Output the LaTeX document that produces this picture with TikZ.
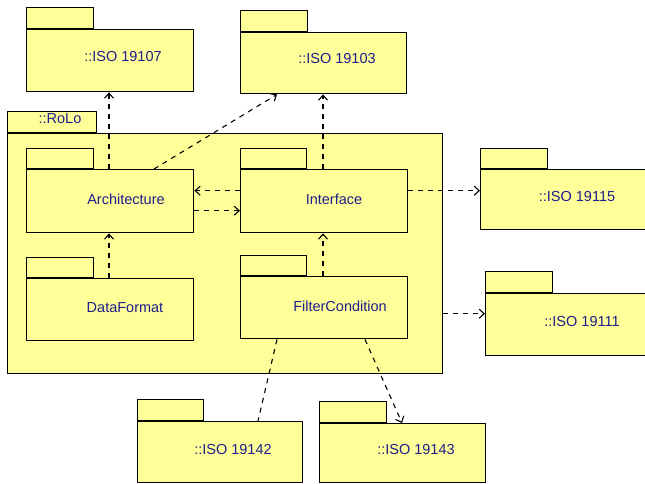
\documentclass[tikz,border=0pt]{standalone}
\usepackage{fontspec}
\setmainfont{Liberation Sans}
\usetikzlibrary{arrows.meta,calc}
\definecolor{pkgfill}{RGB}{255,255,153}
\definecolor{pkgtext}{RGB}{30,30,140}
\tikzset{
  pkgbody/.style={draw=black, fill=pkgfill, line width=1.4pt, rectangle, inner sep=0pt, anchor=north west},
  pkgtab/.style={draw=black, fill=pkgfill, line width=1.4pt, rectangle, inner sep=0pt, anchor=south west},
  pkglabel/.style={text=pkgtext, font=\fontsize{14.5}{16}\selectfont, inner sep=0pt},
  dep/.style={draw=black, line width=1.1pt, dash pattern=on 5pt off 5pt},
  deparrow/.style={dep, -{Straight Barb[length=5pt,width=9pt,line width=1.1pt]}}
}
\begin{document}
\begin{tikzpicture}[x={(1pt,0)}, y={(0,-1pt)}]
\useasboundingbox (0,0) rectangle (645,483);
\clip (0,0) rectangle (645,483);

% ISO 19107
\node[pkgbody, minimum width=167pt, minimum height=62pt] (i107) at (26,29) {};
\node[pkgtab, minimum width=67pt, minimum height=21pt] (i107t) at (i107.north west) {};
\node[pkglabel] (i107l) at (123,57) {::ISO 19107};

% ISO 19103
\node[pkgbody, minimum width=166pt, minimum height=61pt] (i103) at (240,32) {};
\node[pkgtab, minimum width=67pt, minimum height=21pt] (i103t) at (i103.north west) {};
\node[pkglabel] (i103l) at (337,59) {::ISO 19103};

% RoLo
\node[pkgbody, minimum width=435pt, minimum height=240pt] (rolo) at (7,133) {};
\node[pkgtab, minimum width=89pt, minimum height=21pt] (rolot) at (rolo.north west) {};
\node[pkglabel] (rolol) at (60,119) {::RoLo};

% Architecture
\node[pkgbody, minimum width=167pt, minimum height=63pt] (arch) at (26,169) {};
\node[pkgtab, minimum width=67pt, minimum height=20pt] (archt) at (arch.north west) {};
\node[pkglabel] (archl) at (126,199) {Architecture};

% Interface
\node[pkgbody, minimum width=167pt, minimum height=63pt] (intf) at (240,169) {};
\node[pkgtab, minimum width=66pt, minimum height=20pt] (intft) at (intf.north west) {};
\node[pkglabel] (intfl) at (334,199) {Interface};

% DataFormat
\node[pkgbody, minimum width=167pt, minimum height=62pt] (dfmt) at (26,278) {};
\node[pkgtab, minimum width=67pt, minimum height=20pt] (dfmtt) at (dfmt.north west) {};
\node[pkglabel] (dfmtl) at (125,308) {DataFormat};

% FilterCondition
\node[pkgbody, minimum width=167pt, minimum height=62pt] (fcond) at (240,276) {};
\node[pkgtab, minimum width=66pt, minimum height=20pt] (fcondt) at (fcond.north west) {};
\node[pkglabel] (fcondl) at (340,306) {FilterCondition};

% ISO 19115
\node[pkgbody, minimum width=200pt, minimum height=60pt] (i115) at (480,169) {};
\node[pkgtab, minimum width=67pt, minimum height=20pt] (i115t) at (i115.north west) {};
\node[pkglabel] (i115l) at (577,197) {::ISO 19115};

% ISO 19111
\node[pkgbody, minimum width=200pt, minimum height=62pt] (i111) at (485,293) {};
\node[pkgtab, minimum width=67pt, minimum height=21pt] (i111t) at (i111.north west) {};
\node[pkglabel] (i111l) at (582,321) {::ISO 19111};

% ISO 19142
\node[pkgbody, minimum width=165pt, minimum height=61pt] (i142) at (137,421) {};
\node[pkgtab, minimum width=66pt, minimum height=21pt] (i142t) at (i142.north west) {};
\node[pkglabel] (i142l) at (233,449) {::ISO 19142};

% ISO 19143
\node[pkgbody, minimum width=166pt, minimum height=59pt] (i143) at (319,423) {};
\node[pkgtab, minimum width=67pt, minimum height=21pt] (i143t) at (i143.north west) {};
\node[pkglabel] (i143l) at (416,449) {::ISO 19143};

% dependencies
\draw[deparrow] ([xshift=83pt]arch.north west) -- ([xshift=83pt]i107.south west);
\draw[deparrow] ([xshift=128pt]arch.north west) -- ([xshift=37pt]i103.south west);
\draw[deparrow] ([yshift=10.5pt]intf.west) -- ([yshift=10.5pt]arch.east);
\draw[deparrow] ([yshift=-9.5pt]arch.east) -- ([yshift=-9.5pt]intf.west);
\draw[deparrow] ([xshift=83pt]intf.north west) -- ([xshift=83pt]i103.south west);
\draw[deparrow] ([yshift=10.5pt]intf.east) -- ([yshift=10.5pt]intf.east -| i115.west);
\draw[deparrow] ([xshift=83pt]dfmt.north west) -- ([xshift=83pt]arch.south west);
\draw[deparrow] ([xshift=83pt]fcond.north west) -- ([xshift=83pt]intf.south west);
\draw[deparrow] ([yshift=11pt]i111.west -| rolo.east) -- ([yshift=11pt]i111.west);
\draw[dep] ([xshift=37pt]fcond.south west) -- ([xshift=121pt]i142.north west);
\draw[deparrow] ([xshift=125pt]fcond.south west) -- ([xshift=83pt]i143.north west);
\end{tikzpicture}
\end{document}
